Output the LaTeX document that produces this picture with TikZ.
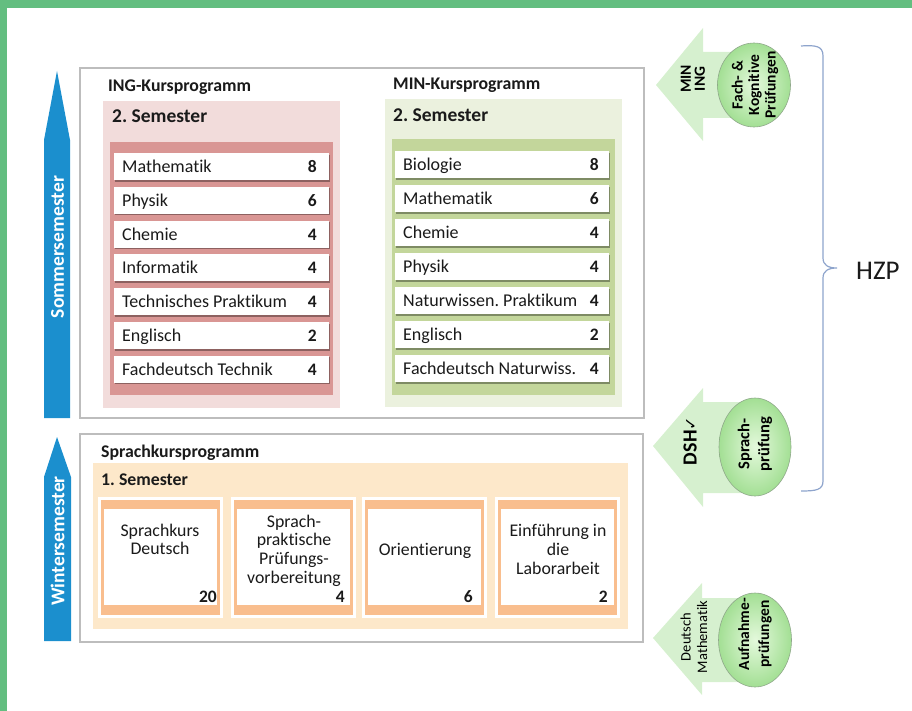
\documentclass[tikz,border=0pt]{standalone}
\usepackage{fontspec}
\setmainfont{Carlito}[Ligatures=NoCommon]
\newfontfamily\symfont{DejaVu Sans}
\usetikzlibrary{shadows,shapes.geometric}
\definecolor{frameGreen}{HTML}{63BE80}
\definecolor{semBlue}{HTML}{1B8FCE}
\definecolor{boxGray}{HTML}{BDBDBD}
\definecolor{pinkOut}{HTML}{F2DCDB}
\definecolor{pinkIn}{HTML}{D99694}
\definecolor{greenOut}{HTML}{EBF1DE}
\definecolor{greenIn}{HTML}{C3D69B}
\definecolor{peach}{HTML}{FDE8CA}
\definecolor{orangeFrame}{HTML}{F9BE8E}
\definecolor{arrowGreen}{HTML}{D6F0CF}
\definecolor{ellIn}{HTML}{E4F9DC}
\definecolor{ellOut}{HTML}{A3DF94}
\definecolor{ellBorder}{HTML}{8FA88A}
\definecolor{braceBlue}{HTML}{8EA4CC}
\definecolor{txt}{HTML}{1A1A1A}
\begin{document}
\frenchspacing
\begin{tikzpicture}[x=1pt,y=-1pt,
  lbl/.style={inner sep=0pt, font=\fontsize{18}{21}\selectfont, text=txt},
  num/.style={inner sep=0pt, font=\fontsize{17.5}{20}\selectfont\bfseries, text=txt},
  headlbl/.style={inner sep=0pt, font=\fontsize{17.8}{21}\selectfont\bfseries, text=txt, anchor=base west},
  semlbl/.style={inner sep=0pt, font=\fontsize{19.5}{23}\selectfont\bfseries, text=txt, anchor=base west},
  boxlbl/.style={inner sep=0pt, font=\fontsize{17.8}{20}\selectfont, text=txt, anchor=base},
  rowbox/.style={fill=white, drop shadow={shadow xshift=0.8pt, shadow yshift=-1.6pt, opacity=0.35, fill=black}},
  semarrowtxt/.style={rotate=90, inner sep=0pt, text=white, font=\fontsize{19.5}{23}\selectfont\bfseries},
  examell/.style={ellipse, draw=ellBorder, line width=0.6pt, shading=radial, inner color=ellIn, outer color=ellOut, inner sep=0pt},
  rottxt/.style={rotate=90, inner sep=0pt, align=center, text=black}
]
\useasboundingbox (0,0) rectangle (912,711);
% green frame
\fill[frameGreen] (0,0) rectangle (912,8);
\fill[frameGreen] (0,0) rectangle (7,711);

% semester arrows
\fill[semBlue] (44,140) -- (57,71) -- (70,140) -- (70,418) -- (44,418) -- cycle;
\fill[semBlue] (44,477) -- (57,437) -- (71,477) -- (71,641) -- (44,641) -- cycle;
\node[semarrowtxt] (somm) at (57.5,247) {Sommersemester};
\node[semarrowtxt] (wint) at (57.5,541) {Wintersemester};

% upper box
\draw[boxGray, line width=1.5pt, fill=white] (80,68) rectangle (644,418);
\node[headlbl] (inghead) at (108,92) {ING-Kursprogramm};
\node[headlbl] (minhead) at (393,90) {MIN-Kursprogramm};
\fill[pinkOut] (103,101) rectangle (340,408);
\fill[pinkIn] (110,142) rectangle (333,395);
\fill[greenOut] (385,99) rectangle (622,407);
\fill[greenIn] (392,139) rectangle (615,395);
\node[semlbl] (ingsem) at (112,123) {2. Semester};
\node[semlbl] (minsem) at (393,122) {2. Semester};

\foreach \i/\name/\n in {0/Mathematik/8, 1/Physik/6, 2/Chemie/4, 3/Informatik/4, 4/Technisches Praktikum/4, 5/Englisch/2, 6/Fachdeutsch Technik/4}{
  \pgfmathsetmacro\ry{153+33.8*\i}
  \path[rowbox] (114,\ry) rectangle (329,\ry+27);
  \node[lbl, anchor=base west] (ingl\i) at (122,\ry+19.5) {\name};
  \node[num, anchor=base east] (ingn\i) at (317,\ry+19.5) {\n};
}
\foreach \i/\name/\n in {0/Biologie/8, 1/Mathematik/6, 2/Chemie/4, 3/Physik/4, 4/Naturwissen. Praktikum/4, 5/Englisch/2, 6/Fachdeutsch Naturwiss./4}{
  \pgfmathsetmacro\ry{151+34*\i}
  \path[rowbox] (395,\ry) rectangle (609,\ry+27);
  \node[lbl, anchor=base west] (minl\i) at (403,\ry+19.5) {\name};
  \node[num, anchor=base east] (minn\i) at (599,\ry+19.5) {\n};
}

% lower box
\draw[boxGray, line width=1.5pt, fill=white] (80,434) rectangle (643,642);
\node[headlbl] (sprhead) at (101,457) {Sprachkursprogramm};
\fill[peach] (93,463) rectangle (628,629);
\node[semlbl, font=\fontsize{17.8}{20}\selectfont\bfseries] (sprsem) at (101,485) {1. Semester};
\foreach \i/\x in {1/101, 2/234, 3/365, 4/498}{
  \fill[white] (\x-3,497) rectangle (\x+122,618);
  \fill[orangeFrame] (\x,500) rectangle (\x+119,615);
  \fill[white] (\x+3,509) rectangle (\x+116,605);
}
\node[boxlbl] (b1a) at (160,536) {Sprachkurs};
\node[boxlbl] (b1b) at (160,554.5) {Deutsch};
\node[boxlbl] (b2a) at (294,527) {Sprach-};
\node[boxlbl] (b2b) at (294,545.7) {praktische};
\node[boxlbl] (b2c) at (294,564.4) {Prüfungs-};
\node[boxlbl] (b2d) at (294,583) {vorbereitung};
\node[boxlbl] (b3a) at (425,555) {Orientierung};
\node[boxlbl] (b4a) at (558,536) {Einführung in};
\node[boxlbl] (b4b) at (558,555) {die};
\node[boxlbl] (b4c) at (558,574) {Laborarbeit};
\node[num, anchor=base east] (b1n) at (217,602) {20};
\node[num, anchor=base east] (b2n) at (345,602) {4};
\node[num, anchor=base east] (b3n) at (473,602) {6};
\node[num, anchor=base east] (b4n) at (608,602) {2};

% exam arrows
\fill[arrowGreen] (656,85) -- (703,28) -- (703,52) -- (754,52) -- (754,118) -- (703,118) -- (703,141) -- cycle;
\node[examell, minimum width=73pt, minimum height=84pt] (e1) at (754,85) {};
\node[rottxt, font=\fontsize{15.5}{14}\selectfont\bfseries] (a1t) at (693,79) {MIN\\ING};
\node[rottxt, font=\fontsize{15.5}{16.5}\selectfont\bfseries] (e1t) at (755,85) {Fach- \&\\Kognitive\\Prüfungen};

\fill[arrowGreen] (653,446) -- (703,388) -- (703,402) -- (754,402) -- (754,493) -- (703,493) -- (703,507) -- cycle;
\node[examell, minimum width=72pt, minimum height=98pt] (e2) at (755,447) {};
\node[rottxt, font=\fontsize{20}{22}\selectfont\bfseries] (a2t) at (690,441) {DSH{\symfont\fontsize{16}{18}\selectfont ✓}};
\node[rottxt, font=\fontsize{16.5}{20}\selectfont\bfseries] (e2t) at (755,444) {Sprach-\\prüfung};

\fill[arrowGreen] (653,638) -- (702,583) -- (702,598) -- (754,598) -- (754,682) -- (702,682) -- (702,695) -- cycle;
\node[examell, minimum width=73pt, minimum height=94pt] (e3) at (755,640) {};
\node[rottxt, font=\fontsize{14.5}{16.5}\selectfont] (a3t) at (694,637) {Deutsch\\Mathematik};
\node[rottxt, font=\fontsize{15.5}{20}\selectfont\bfseries] (e3t) at (755,634) {Aufnahme-\\prüfungen};

% brace
\draw[braceBlue, line width=1.2pt] (801,46) .. controls (816,45) and (823,46) .. (823,56) -- (823,258) .. controls (823,265) and (828,268) .. (837,268) .. controls (828,268) and (823,271) .. (823,278) -- (823,481) .. controls (823,490) and (816,491) .. (801,491);
\node[inner sep=0pt, anchor=base west, font=\fontsize{27}{30}\selectfont, text=txt] (hzp) at (856,279) {HZP};
\end{tikzpicture}
\end{document}
